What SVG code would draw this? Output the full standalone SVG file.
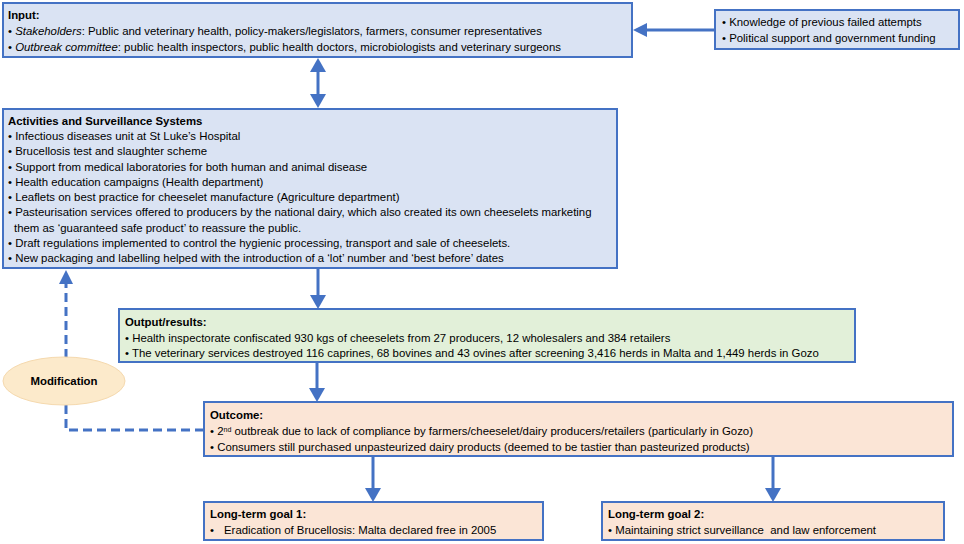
<svg xmlns="http://www.w3.org/2000/svg" width="964" height="544" viewBox="0 0 964 544">
<style>
.box{stroke:#4472C4;stroke-width:2}
.blue{fill:#DAE3F3}
.green{fill:#E2F0D9}
.peach{fill:#FBE5D6}
text{font-family:"Liberation Sans",Arial,sans-serif;font-size:11.4px;fill:#000;white-space:pre}
.b{font-weight:bold}
.conn{stroke:#4472C4;stroke-width:3;fill:none}
.dash{stroke:#4472C4;stroke-width:3;fill:none;stroke-dasharray:9 5}
.head{fill:#4472C4}
</style>
<rect width="964" height="544" fill="#fff"/>
<g id="connectors">
  <line class="conn" x1="715" y1="30" x2="645" y2="30"/>
  <polygon class="head" points="633,30 647,23 647,37"/>
  <line class="conn" x1="318" y1="70" x2="318" y2="96"/>
  <polygon class="head" points="318,58 310,72 326,72"/>
  <polygon class="head" points="318,108 310,94 326,94"/>
  <line class="conn" x1="318" y1="268" x2="318" y2="297"/>
  <polygon class="head" points="318,309 310,295 326,295"/>
  <line class="conn" x1="317" y1="362" x2="317" y2="390"/>
  <polygon class="head" points="317,402 309,388 325,388"/>
  <line class="conn" x1="373" y1="456" x2="373" y2="490"/>
  <polygon class="head" points="373,502 365,488 381,488"/>
  <line class="conn" x1="773" y1="456" x2="773" y2="490"/>
  <polygon class="head" points="773,502 765,488 781,488"/>
  <path class="dash" d="M204,430 H66 V284"/>
  <polygon class="head" points="66,270 59,284 73,284"/>
</g>
<g id="input">
  <rect class="box blue" x="3" y="3" width="629" height="54"/>
  <text x="8" y="19" class="b">Input:</text>
  <text x="8" y="35">• <tspan font-style="italic">Stakeholders</tspan>: Public and veterinary health, policy-makers/legislators, farmers, consumer representatives</text>
  <text x="8" y="51">• <tspan font-style="italic">Outbreak committee</tspan>: public health inspectors, public health doctors, microbiologists and veterinary surgeons</text>
</g>
<g id="support">
  <rect class="box blue" x="715" y="10" width="244" height="39"/>
  <text x="722" y="26">• Knowledge of previous failed attempts</text>
  <text x="722" y="42">• Political support and government funding</text>
</g>
<g id="activities">
  <rect class="box blue" x="3" y="109" width="614" height="159"/>
  <text x="8" y="125" class="b">Activities and Surveillance Systems</text>
  <text x="8" y="140">• Infectious diseases unit at St Luke’s Hospital</text>
  <text x="8" y="155">• Brucellosis test and slaughter scheme</text>
  <text x="8" y="171">• Support from medical laboratories for both human and animal disease</text>
  <text x="8" y="186">• Health education campaigns (Health department)</text>
  <text x="8" y="201">• Leaflets on best practice for cheeselet manufacture (Agriculture department)</text>
  <text x="8" y="216">• Pasteurisation services offered to producers by the national dairy, which also created its own cheeselets marketing</text>
  <text x="14" y="232">them as ‘guaranteed safe product’ to reassure the public.</text>
  <text x="8" y="247">• Draft regulations implemented to control the hygienic processing, transport and sale of cheeselets.</text>
  <text x="8" y="262">• New packaging and labelling helped with the introduction of a ‘lot’ number and ‘best before’ dates</text>
</g>
<g id="output">
  <rect class="box green" x="119" y="309" width="736" height="53"/>
  <text x="125" y="326" class="b">Output/results:</text>
  <text x="125" y="342">• Health inspectorate confiscated 930 kgs of cheeselets from 27 producers, 12 wholesalers and 384 retailers</text>
  <text x="125" y="357">• The veterinary services destroyed 116 caprines, 68 bovines and 43 ovines after screening 3,416 herds in Malta and 1,449 herds in Gozo</text>
</g>
<g id="modification">
  <ellipse cx="64" cy="381" rx="61" ry="24" fill="#FCEACB" stroke="#F5D9AE" stroke-width="1"/>
  <text x="64" y="385" class="b" text-anchor="middle">Modification</text>
</g>
<g id="outcome">
  <rect class="box peach" x="204" y="402" width="749" height="54"/>
  <text x="210" y="419" class="b">Outcome:</text>
  <text x="210" y="435">• 2<tspan font-size="7px" baseline-shift="super">nd</tspan> outbreak due to lack of compliance by farmers/cheeselet/dairy producers/retailers (particularly in Gozo)</text>
  <text x="210" y="451">• Consumers still purchased unpasteurized dairy products (deemed to be tastier than pasteurized products)</text>
</g>
<g id="goal1">
  <rect class="box peach" x="204" y="502" width="339" height="38"/>
  <text x="210" y="518" class="b">Long-term goal 1:</text>
  <text x="210" y="534">•</text>
  <text x="224" y="534">Eradication of Brucellosis: Malta declared free in 2005</text>
</g>
<g id="goal2">
  <rect class="box peach" x="602" y="502" width="342" height="38"/>
  <text x="608" y="518" class="b">Long-term goal 2:</text>
  <text x="608" y="534">• Maintaining strict surveillance  and law enforcement</text>
</g>
</svg>
